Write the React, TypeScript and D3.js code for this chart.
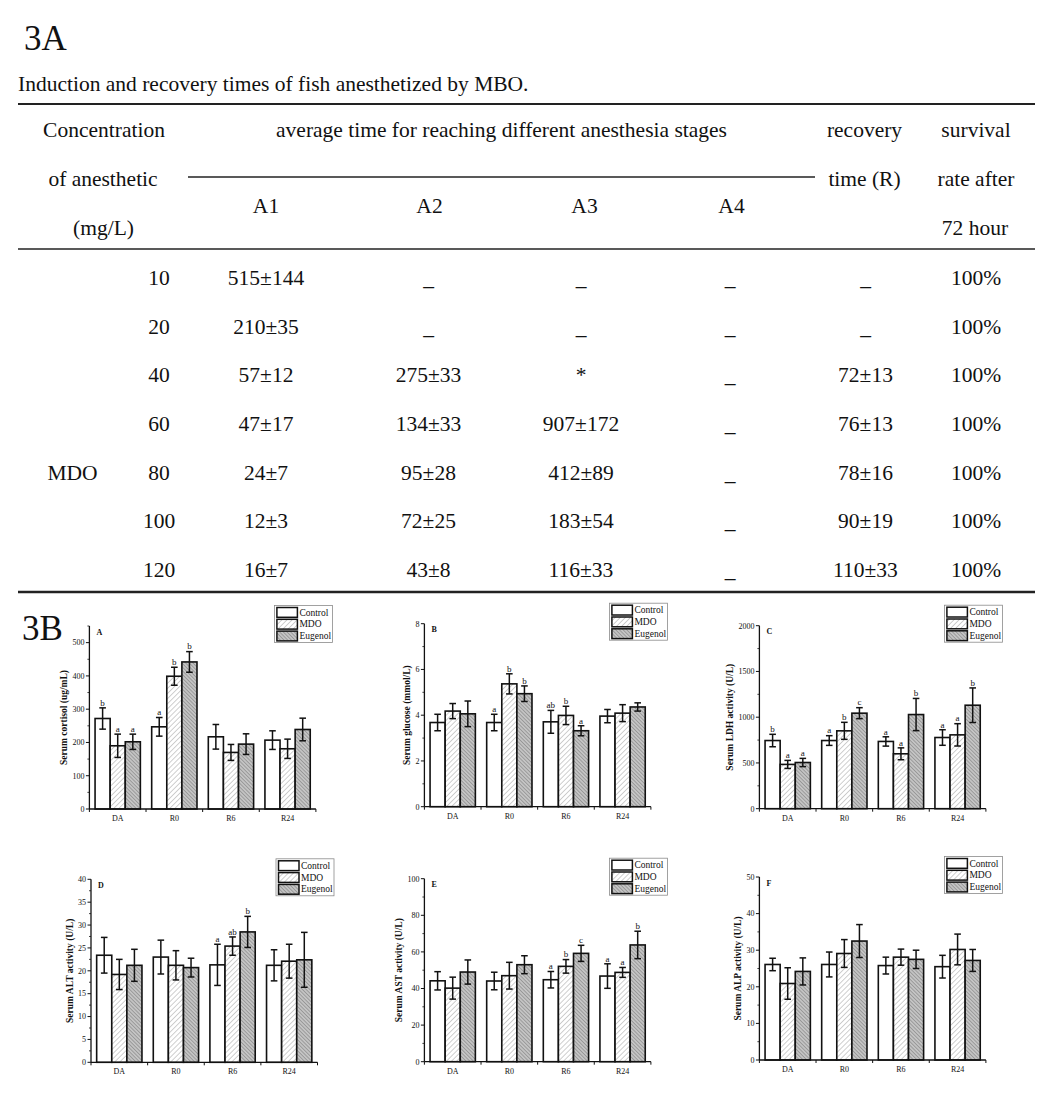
import React from 'react';
import * as d3 from 'd3';

// ---------------- Table data (3A) ----------------
const concentrations = ['10', '20', '40', '60', '80', '100', '120'];
const a1Times = ['515±144', '210±35', '57±12', '47±17', '24±7', '12±3', '16±7'];
const a2Times = ['_', '_', '275±33', '134±33', '95±28', '72±25', '43±8'];
const a3Times = ['_', '_', '*', '907±172', '412±89', '183±54', '116±33'];
const a4Times = ['_', '_', '_', '_', '_', '_', '_'];
const recoveryTimes = ['_', '_', '72±13', '76±13', '78±16', '90±19', '110±33'];
const survivalRates = ['100%', '100%', '100%', '100%', '100%', '100%', '100%'];
const anestheticName = 'MDO';
const anestheticRow = 4;

// ---------------- Chart data (3B) ----------------
const groups = ['DA', 'R0', 'R6', 'R24'];
const seriesNames = ['Control', 'MDO', 'Eugenol'];

// A: cortisol
const cortisolControl = [272, 247, 217, 207];
const cortisolControlErr = [32, 28, 37, 28];
const cortisolMDO = [190, 399, 170, 181];
const cortisolMDOErr = [35, 27, 24, 29];
const cortisolEug = [202, 442, 195, 239];
const cortisolEugErr = [23, 31, 31, 34];
const cortisolLetters = [['b', 'a', '', ''], ['a', 'b', '', ''], ['a', 'b', '', '']];

// B: glucose
const glucoseControl = [3.68, 3.68, 3.71, 3.96];
const glucoseControlErr = [0.36, 0.36, 0.5, 0.29];
const glucoseMDO = [4.18, 5.37, 3.99, 4.09];
const glucoseMDOErr = [0.33, 0.44, 0.4, 0.37];
const glucoseEug = [4.06, 4.94, 3.32, 4.36];
const glucoseEugErr = [0.56, 0.34, 0.22, 0.18];
const glucoseLetters = [['', 'a', 'ab', ''], ['', 'b', 'b', ''], ['', 'b', 'a', '']];

// C: LDH
const ldhControl = [745, 745, 735, 778];
const ldhControlErr = [68, 53, 51, 85];
const ldhMDO = [484, 851, 600, 807];
const ldhMDOErr = [44, 93, 65, 122];
const ldhEug = [505, 1044, 1029, 1131];
const ldhEugErr = [45, 60, 176, 189];
const ldhLetters = [['b', 'a', 'a', 'a'], ['a', 'b', 'a', 'a'], ['a', 'c', 'b', 'b']];

// D: ALT
const altControl = [23.4, 23.0, 21.3, 21.2];
const altControlErr = [3.9, 3.7, 4.5, 3.4];
const altMDO = [19.2, 21.2, 25.4, 22.1];
const altMDOErr = [3.3, 3.2, 2.0, 3.7];
const altEug = [21.2, 20.7, 28.5, 22.4];
const altEugErr = [3.5, 2.05, 3.4, 6.0];
const altLetters = [['', '', 'a', ''], ['', '', 'ab', ''], ['', '', 'b', '']];

// E: AST
const astControl = [44.2, 44.1, 44.8, 46.8];
const astControlErr = [5, 4.8, 4.5, 6.7];
const astMDO = [40.2, 47.0, 52.1, 48.8];
const astMDOErr = [6, 7.3, 3.7, 2.7];
const astEug = [49.0, 53.0, 59.2, 63.8];
const astEugErr = [6.6, 4.9, 4.4, 7.5];
const astLetters = [['', '', 'a', 'a'], ['', '', 'b', 'a'], ['', '', 'c', 'b']];

// F: ALP
const alpControl = [26.1, 26.1, 25.8, 25.5];
const alpControlErr = [1.7, 3.4, 2.3, 3.1];
const alpMDO = [20.9, 29.1, 28.1, 30.2];
const alpMDOErr = [4.3, 3.8, 2.2, 4.2];
const alpEug = [24.2, 32.5, 27.5, 27.2];
const alpEugErr = [3.7, 4.5, 2.5, 3.0];
const alpLetters = [['', '', '', ''], ['', '', '', ''], ['', '', '', '']];

const FONT = "'Liberation Serif','Times New Roman',Times,serif";

type PanelCfg = {
  axisX: number;
  baseY: number;
  yMax: number;
  tickStep: number;
  minorStep: number;
  tickMax: number;
  title: string;
  letter: string;
  means: number[][];
  errs: number[][];
  letters: string[][];
};

const panels: PanelCfg[] = [
  { axisX: 89.4, baseY: 809, yMax: 550, tickStep: 100, minorStep: 50, tickMax: 500, title: 'Serum cortisol (ug/mL)', letter: 'A',
    means: [cortisolControl, cortisolMDO, cortisolEug], errs: [cortisolControlErr, cortisolMDOErr, cortisolEugErr], letters: cortisolLetters },
  { axisX: 424.4, baseY: 806.7, yMax: 8, tickStep: 2, minorStep: 1, tickMax: 8, title: 'Serum glucose (mmol/L)', letter: 'B',
    means: [glucoseControl, glucoseMDO, glucoseEug], errs: [glucoseControlErr, glucoseMDOErr, glucoseEugErr], letters: glucoseLetters },
  { axisX: 759.4, baseY: 808.7, yMax: 2000, tickStep: 500, minorStep: 250, tickMax: 2000, title: 'Serum LDH activity (U/L)', letter: 'C',
    means: [ldhControl, ldhMDO, ldhEug], errs: [ldhControlErr, ldhMDOErr, ldhEugErr], letters: ldhLetters },
  { axisX: 91, baseY: 1062.3, yMax: 40, tickStep: 5, minorStep: 2.5, tickMax: 40, title: 'Serum ALT activity (U/L)', letter: 'D',
    means: [altControl, altMDO, altEug], errs: [altControlErr, altMDOErr, altEugErr], letters: altLetters },
  { axisX: 424.4, baseY: 1061.7, yMax: 100, tickStep: 20, minorStep: 10, tickMax: 100, title: 'Serum AST activity (U/L)', letter: 'E',
    means: [astControl, astMDO, astEug], errs: [astControlErr, astMDOErr, astEugErr], letters: astLetters },
  { axisX: 759.4, baseY: 1060, yMax: 50, tickStep: 10, minorStep: 5, tickMax: 50, title: 'Serum ALP activity (U/L)', letter: 'F',
    means: [alpControl, alpMDO, alpEug], errs: [alpControlErr, alpMDOErr, alpEugErr], letters: alpLetters },
];

const AXIS_H = 183;
const AXIS_W = 226.5;
const fills = ['#ffffff', 'url(#hatchMDO)', 'url(#hatchEug)'];

function Panel({ cfg }: { cfg: PanelCfg }) {
  const { axisX, baseY } = cfg;
  const top = baseY - AXIS_H;
  const y = d3.scaleLinear().domain([0, cfg.yMax]).range([baseY, top]);
  const x0 = d3.scaleBand<string>().domain(groups).range([axisX, axisX + AXIS_W]).paddingInner(0.2).paddingOuter(0.1);
  const x1 = d3.scaleBand<string>().domain(seriesNames).range([0, x0.bandwidth()]);
  const step = x0.step();
  const majors = d3.range(0, cfg.tickMax + cfg.tickStep * 0.01, cfg.tickStep);
  const minors = d3.range(0, cfg.yMax + cfg.minorStep * 0.01, cfg.minorStep).filter(
    (v) => Math.abs(v / cfg.tickStep - Math.round(v / cfg.tickStep)) > 1e-6
  );
  const labelLen = d3.max(majors, (v) => String(v).length) || 1;
  const titleX = axisX - 5 - labelLen * 4.1 - 8.3 + 3.2;
  const legX = axisX + 185;
  const legY = top - 20.5;

  return (
    <g>
      {/* bars */}
      {cfg.means.map((series, si) =>
        series.map((v, gi) => {
          const bx = (x0(groups[gi]) || 0) + (x1(seriesNames[si]) || 0);
          const bw = x1.bandwidth();
          return (
            <rect key={`b${si}-${gi}`} x={bx} y={y(v)} width={bw} height={baseY - y(v)}
              fill={fills[si]} stroke="#111" strokeWidth={1.6} />
          );
        })
      )}
      {/* error bars and letters */}
      {cfg.means.map((series, si) =>
        series.map((v, gi) => {
          const cx = (x0(groups[gi]) || 0) + (x1(seriesNames[si]) || 0) + x1.bandwidth() / 2;
          const e = cfg.errs[si][gi];
          const yt = y(v + e), yb = y(v - e);
          const lt = cfg.letters[si][gi];
          return (
            <g key={`e${si}-${gi}`} stroke="#111" strokeWidth={1.5}>
              <line x1={cx} x2={cx} y1={yt} y2={yb} />
              <line x1={cx - 3.3} x2={cx + 3.3} y1={yt} y2={yt} />
              <line x1={cx - 3.3} x2={cx + 3.3} y1={yb} y2={yb} />
              {lt && (
                <text x={cx} y={yt - 2.2} textAnchor="middle" fontSize={9} fontFamily={FONT} fill="#111" stroke="none">{lt}</text>
              )}
            </g>
          );
        })
      )}
      {/* y axis */}
      <line x1={axisX} x2={axisX} y1={baseY} y2={top} stroke="#111" strokeWidth={1.3} />
      {majors.map((v) => (
        <g key={`mt${v}`}>
          <line x1={axisX - 3.5} x2={axisX} y1={y(v)} y2={y(v)} stroke="#111" strokeWidth={1} />
          <text x={axisX - 5} y={y(v) + 2.8} textAnchor="end" fontSize={8} fontFamily={FONT} fill="#111">{v}</text>
        </g>
      ))}
      {minors.map((v) => (
        <line key={`mn${v}`} x1={axisX - 2} x2={axisX} y1={y(v)} y2={y(v)} stroke="#111" strokeWidth={0.8} />
      ))}
      {/* x axis */}
      <line x1={axisX} x2={axisX + AXIS_W} y1={baseY} y2={baseY} stroke="#111" strokeWidth={1.3} />
      {d3.range(0, groups.length + 1).map((i) => (
        <line key={`xt${i}`} x1={axisX + i * step} x2={axisX + i * step} y1={baseY} y2={baseY + 3} stroke="#111" strokeWidth={1} />
      ))}
      {groups.map((g) => (
        <text key={`xl${g}`} x={(x0(g) || 0) + x0.bandwidth() / 2} y={baseY + 12} textAnchor="middle" fontSize={8} fontFamily={FONT} fill="#111">{g}</text>
      ))}
      {/* y title */}
      <text transform={`translate(${titleX},${(baseY + top) / 2}) rotate(-90)`} textAnchor="middle" fontSize={9.5}
        fontWeight="bold" fontFamily={FONT} fill="#111">{cfg.title}</text>
      {/* panel letter */}
      <text x={axisX + 7} y={top + 8.5} fontSize={8} fontWeight="bold" fontFamily={FONT} fill="#111">{cfg.letter}</text>
      {/* legend */}
      <rect x={legX} y={legY} width={58} height={37} fill="#fff" stroke="#8a8a8a" strokeWidth={0.8} />
      {seriesNames.map((s, i) => (
        <g key={`lg${s}`}>
          <rect x={legX + 2.5} y={legY + 2 + i * 11.8} width={20.5} height={9.8} fill={fills[i]} stroke="#111" strokeWidth={1.5} />
          <text x={legX + 25} y={legY + 10 + i * 11.8} fontSize={9.5} fontFamily={FONT} fill="#111">{s}</text>
        </g>
      ))}
    </g>
  );
}

function Table() {
  const rowY = d3.scaleLinear().domain([0, 1]).range([285, 285 + 48.67]);
  const fs = 21.5;
  const cols: { x: number; vals: string[] }[] = [
    { x: 159, vals: concentrations },
    { x: 266, vals: a1Times },
    { x: 428.5, vals: a2Times },
    { x: 581, vals: a3Times },
    { x: 730, vals: a4Times },
    { x: 865.5, vals: recoveryTimes },
    { x: 976, vals: survivalRates },
  ];
  const T = (x: number, yy: number, s: string, anchor: string = 'middle', size: number = fs) => (
    <text x={x} y={yy} textAnchor={anchor as any} fontSize={size} fontFamily={FONT} fill="#111">{s}</text>
  );
  return (
    <g>
      <text x={24} y={50} fontSize={35} fontFamily={FONT} fill="#111">3A</text>
      <text x={18} y={91} fontSize={fs} fontFamily={FONT} fill="#111">Induction and recovery times of fish anesthetized by MBO.</text>
      <line x1={18} x2={1035} y1={104} y2={104} stroke="#222" strokeWidth={2} />
      {T(104, 137, 'Concentration')}
      {T(103, 186, 'of anesthetic')}
      {T(103.5, 235, '(mg/L)')}
      {T(501.5, 137, 'average time for reaching different anesthesia stages')}
      <line x1={188} x2={815} y1={177} y2={177} stroke="#222" strokeWidth={1.6} />
      {T(266, 213, 'A1')}
      {T(429.5, 213, 'A2')}
      {T(584.5, 213, 'A3')}
      {T(731.5, 213, 'A4')}
      {T(864.5, 137, 'recovery')}
      {T(864.5, 186, 'time (R)')}
      {T(976, 137, 'survival')}
      {T(976, 186, 'rate after')}
      {T(975, 235, '72 hour')}
      <line x1={18} x2={1035} y1={249} y2={249} stroke="#222" strokeWidth={1.6} />
      {cols.map((c, ci) =>
        c.vals.map((v, ri) => <g key={`c${ci}-${ri}`}>{T(c.x, rowY(ri), v)}</g>)
      )}
      {T(72.5, rowY(anestheticRow), anestheticName)}
      <line x1={18} x2={1035} y1={592} y2={592} stroke="#222" strokeWidth={2.6} />
    </g>
  );
}

export default function App() {
  return (
    <svg width={1047} height={1105} viewBox="0 0 1047 1105"
      style={{ position: 'absolute', left: 0, top: 0, background: '#fff', display: 'block' }}>
      <defs>
        <pattern id="hatchMDO" width={3.6} height={3.6} patternUnits="userSpaceOnUse" patternTransform="rotate(45)">
          <rect width={3.6} height={3.6} fill="#ffffff" />
          <line x1={0} y1={0} x2={0} y2={3.6} stroke="#a8a8a8" strokeWidth={1.1} />
        </pattern>
        <pattern id="hatchEug" width={2.6} height={2.6} patternUnits="userSpaceOnUse" patternTransform="rotate(-45)">
          <rect width={2.6} height={2.6} fill="#c4c4c4" />
          <line x1={0} y1={0} x2={0} y2={2.6} stroke="#6a6a6a" strokeWidth={0.9} />
        </pattern>
      </defs>
      <rect x={0} y={0} width={1047} height={1105} fill="#fff" />
      <Table />
      <text x={22} y={640} fontSize={35} fontFamily={FONT} fill="#111">3B</text>
      {panels.map((p) => (
        <Panel key={p.letter} cfg={p} />
      ))}
    </svg>
  );
}
